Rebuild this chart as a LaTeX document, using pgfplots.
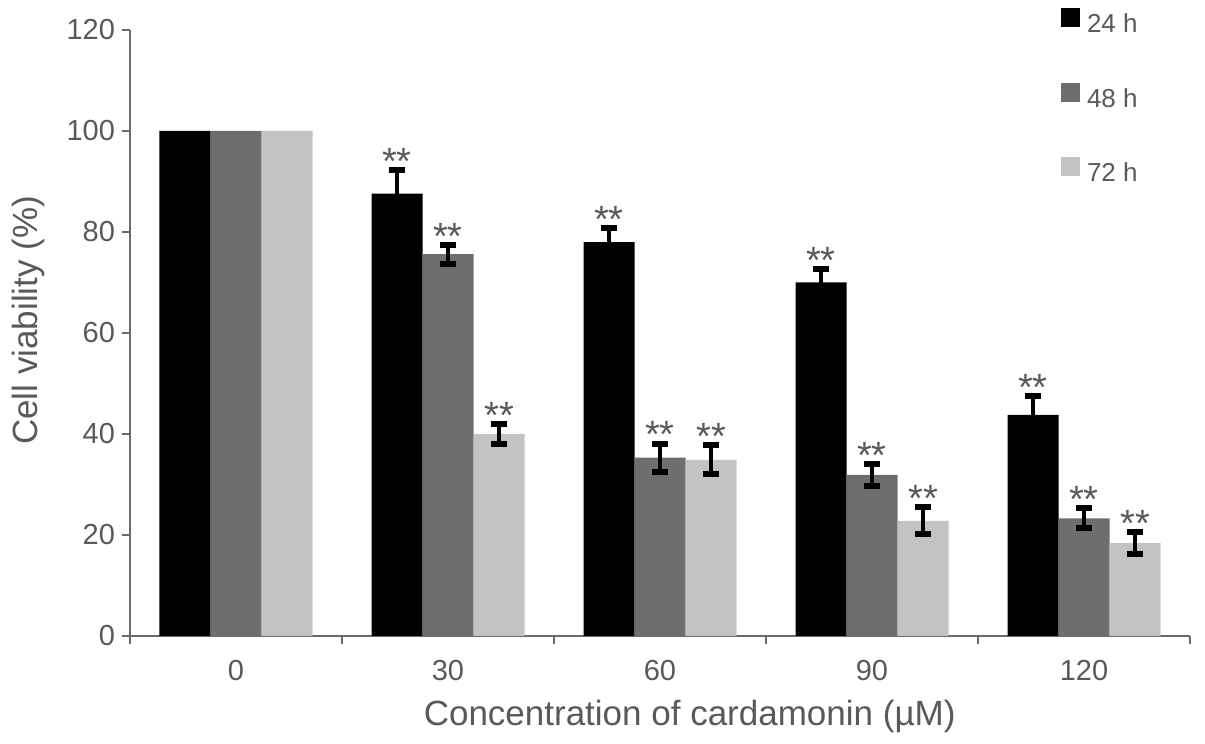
\documentclass[border=0pt]{standalone}
\usepackage{pgfplots}
\pgfplotsset{compat=1.18}
\usepackage{pgfplotstable}
\usepackage{fontspec}
\setmainfont{Liberation Sans}
\definecolor{txt}{HTML}{595959}
\definecolor{axl}{HTML}{6A6A6A}
\definecolor{dg}{HTML}{6E6E6E}
\definecolor{lg}{HTML}{C3C3C3}

\pgfplotstableread{
x y e
0 100 0
1 87.6 4.7
2 78.0 2.8
3 70.0 2.6
4 43.8 3.7
}\hA
\pgfplotstableread{
x y e
0 100 0
1 75.6 1.9
2 35.3 2.8
3 31.9 2.1
4 23.3 2.0
}\hB
\pgfplotstableread{
x y e
0 100 0
1 40.0 1.9
2 34.9 2.9
3 22.8 2.7
4 18.4 2.2
}\hC

\pgfplotsset{
  errplot/.style={draw=none, mark=none, forget plot,
    restrict x to domain=0.5:4.5,
    error bars/.cd, y dir=both, y explicit, error mark=|,
    error bar style={draw=black, line width=2.4bp},
    error mark options={draw=black, line width=3bp, mark size=3.8bp}},
  starplot/.style={draw=none, mark=none, forget plot,
    restrict x to domain=0.5:4.5,
    nodes near coords={**},
    every node near coord/.style={font=\fontsize{19bp}{20bp}\selectfont, text=txt, anchor=base, yshift=-2.2bp, inner sep=0pt}},
}

\begin{document}
\begin{tikzpicture}
\useasboundingbox (0,0) rectangle (602.5bp,372bp);
\begin{axis}[
  at={(65bp,54bp)}, anchor=south west,
  scale only axis, width=530bp, height=303bp,
  xmin=-0.5, xmax=4.5, ymin=0, ymax=120,
  axis lines*=left,
  axis line style={axl, line width=0.9bp},
  xtick={0,1,2,3,4}, xticklabels={0,30,60,90,120},
  minor xtick={-0.5,0.5,1.5,2.5,3.5,4.5},
  ytick={0,20,...,120},
  tick align=outside,
  major tick length=4bp, minor tick length=4bp,
  major x tick style={draw=none},
  minor x tick style={axl, line width=0.9bp},
  y tick style={axl, line width=0.9bp},
  tick label style={font=\fontsize{14.5bp}{16bp}\selectfont, text=txt},
  xticklabel style={yshift=-4.5bp},
  /pgf/number format/assume math mode=true,
  label style={font=\fontsize{17.5bp}{20bp}\selectfont, text=txt},
  xlabel={Concentration of cardamonin (µM)},
  ylabel={Cell viability (\%)},
  xlabel style={at={(axis description cs:0.528,-0.147)}, anchor=base},
  ylabel style={at={(axis description cs:-0.096,0.521)}, anchor=center},
  legend style={at={(axis description cs:0.8725,1.043)}, anchor=north west,
    draw=none, fill=none, font=\fontsize{13bp}{14bp}\selectfont, text=txt,
    row sep=22bp, nodes={inner sep=0pt, text height=9bp, text depth=3bp}},
  legend cell align=left,
]
\addplot[ybar, bar width=25.5bp, bar shift=-25.5bp, fill=black, draw=none, forget plot] table[x=x,y=y] {\hA};
\addplot[ybar, bar width=25.5bp, bar shift=0bp, fill=dg, draw=none, forget plot] table[x=x,y=y] {\hB};
\addplot[ybar, bar width=25.5bp, bar shift=25.5bp, fill=lg, draw=none, forget plot] table[x=x,y=y] {\hC};

\addplot[errplot] table[x expr=\thisrow{x}-0.2406, y=y, y error=e] {\hA};
\addplot[errplot] table[x expr=\thisrow{x}, y=y, y error=e] {\hB};
\addplot[errplot] table[x expr=\thisrow{x}+0.2406, y=y, y error=e] {\hC};

\addplot[starplot] table[x expr=\thisrow{x}-0.2406, y expr=\thisrow{y}+\thisrow{e}] {\hA};
\addplot[starplot] table[x expr=\thisrow{x}, y expr=\thisrow{y}+\thisrow{e}] {\hB};
\addplot[starplot] table[x expr=\thisrow{x}+0.2406, y expr=\thisrow{y}+\thisrow{e}] {\hC};

\addlegendimage{legend image code/.code={\fill[black] (0bp,0bp) rectangle (8.7bp,9bp); \path (12.5bp,0bp);}}
\addlegendentry{24 h}
\addlegendimage{legend image code/.code={\fill[dg] (0bp,0bp) rectangle (8.7bp,9bp); \path (12.5bp,0bp);}}
\addlegendentry{48 h}
\addlegendimage{legend image code/.code={\fill[lg] (0bp,0bp) rectangle (8.7bp,9bp); \path (12.5bp,0bp);}}
\addlegendentry{72 h}
\end{axis}
\end{tikzpicture}
\end{document}
